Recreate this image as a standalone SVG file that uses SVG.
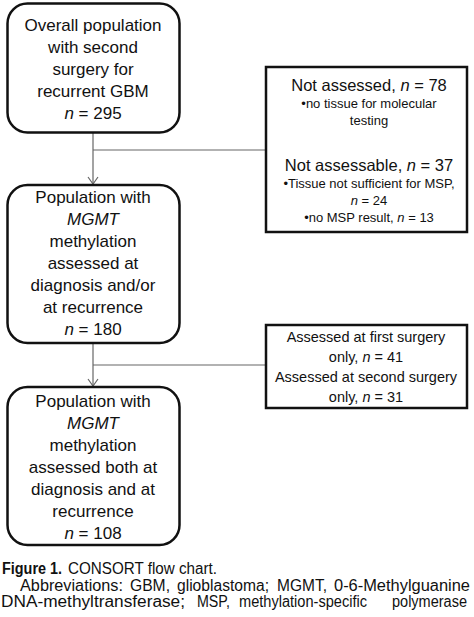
<svg xmlns="http://www.w3.org/2000/svg" width="474" height="617" viewBox="0 0 474 617">
<style>
text{font-family:"Liberation Sans",Arial,sans-serif;fill:#111}
.m{font-size:17px;text-anchor:middle}
.h{font-size:16.5px;text-anchor:middle}
.s{font-size:13px;text-anchor:middle}
.r{font-size:14.5px;text-anchor:middle}
.c{font-size:16px}
.rb{fill:#fff;stroke:#111;stroke-width:2.5}
.sb{fill:#fff;stroke:#111;stroke-width:2.5}
.ln{fill:none;stroke:#666;stroke-width:1.2}
</style>
<defs>
<marker id="ar" markerWidth="12" markerHeight="12" refX="10" refY="6" orient="auto" markerUnits="userSpaceOnUse">
<path d="M3,1 L10,6 L3,11" fill="none" stroke="#666" stroke-width="1.2"/>
</marker>
</defs>
<rect width="474" height="617" fill="#fff"/>
<g id="connectors">
<path class="ln" d="M93,133 V184" marker-end="url(#ar)"/>
<path class="ln" d="M93,150 H266"/>
<path class="ln" d="M93,343 V386" marker-end="url(#ar)"/>
<path class="ln" d="M93,365 H266"/>
</g>
<g id="n1">
<rect class="rb" x="7.5" y="3.5" width="172" height="129" rx="20"/>
<text class="m" x="93" y="31">Overall population</text>
<text class="m" x="93" y="53">with second</text>
<text class="m" x="93" y="75">surgery for</text>
<text class="m" x="93" y="97">recurrent GBM</text>
<text class="m" x="93" y="119"><tspan font-style="italic">n</tspan> = 295</text>
</g>
<g id="n2">
<rect class="sb" x="266" y="67" width="201" height="165"/>
<text class="h" x="369" y="91">Not assessed, <tspan font-style="italic">n</tspan> = 78</text>
<text class="s" x="369" y="108">•no tissue for molecular</text>
<text class="s" x="369" y="125">testing</text>
<text class="h" x="369" y="171">Not assessable, <tspan font-style="italic">n</tspan> = 37</text>
<text class="s" x="369" y="188">•Tissue not sufficient for MSP,</text>
<text class="s" x="369" y="205"><tspan font-style="italic">n</tspan> = 24</text>
<text class="s" x="369" y="222">•no MSP result, <tspan font-style="italic">n</tspan> = 13</text>
</g>
<g id="n3">
<rect class="rb" x="7.5" y="185" width="172" height="158" rx="20"/>
<text class="m" x="93" y="203">Population with</text>
<text class="m" x="93" y="225" font-style="italic">MGMT</text>
<text class="m" x="93" y="247">methylation</text>
<text class="m" x="93" y="269">assessed at</text>
<text class="m" x="93" y="291">diagnosis and/or</text>
<text class="m" x="93" y="313">at recurrence</text>
<text class="m" x="93" y="335"><tspan font-style="italic">n</tspan> = 180</text>
</g>
<g id="n4">
<rect class="sb" x="266" y="325" width="201" height="83"/>
<text class="r" x="366" y="342">Assessed at first surgery</text>
<text class="r" x="366" y="362">only, <tspan font-style="italic">n</tspan> = 41</text>
<text class="r" x="366" y="382">Assessed at second surgery</text>
<text class="r" x="366" y="402">only, <tspan font-style="italic">n</tspan> = 31</text>
</g>
<g id="n5">
<rect class="rb" x="7.5" y="387" width="172" height="158" rx="20"/>
<text class="m" x="93" y="407">Population with</text>
<text class="m" x="93" y="429" font-style="italic">MGMT</text>
<text class="m" x="93" y="451">methylation</text>
<text class="m" x="93" y="473">assessed both at</text>
<text class="m" x="93" y="495">diagnosis and at</text>
<text class="m" x="93" y="517">recurrence</text>
<text class="m" x="93" y="539"><tspan font-style="italic">n</tspan> = 108</text>
</g>
<g id="caption">
<text class="c" x="2" y="574" font-weight="bold" textLength="60" lengthAdjust="spacingAndGlyphs">Figure 1.</text>
<text class="c" x="68" y="574" textLength="149" lengthAdjust="spacingAndGlyphs">CONSORT flow chart.</text>
<text class="c" x="20" y="591" textLength="103" lengthAdjust="spacingAndGlyphs">Abbreviations:</text>
<text class="c" x="130" y="591" textLength="40" lengthAdjust="spacingAndGlyphs">GBM,</text>
<text class="c" x="177" y="591" textLength="92" lengthAdjust="spacingAndGlyphs">glioblastoma;</text>
<text class="c" x="277" y="591" textLength="50" lengthAdjust="spacingAndGlyphs">MGMT,</text>
<text class="c" x="334" y="591" textLength="136" lengthAdjust="spacingAndGlyphs">0-6-Methylguanine</text>
<text class="c" x="1" y="607" textLength="184" lengthAdjust="spacingAndGlyphs">DNA-methyltransferase;</text>
<text class="c" x="197" y="607" textLength="33" lengthAdjust="spacingAndGlyphs">MSP,</text>
<text class="c" x="239" y="607" textLength="128" lengthAdjust="spacingAndGlyphs">methylation-specific</text>
<text class="c" x="392" y="607" font-size="14.5" textLength="75" lengthAdjust="spacingAndGlyphs">polymerase</text>
</g>
</svg>
